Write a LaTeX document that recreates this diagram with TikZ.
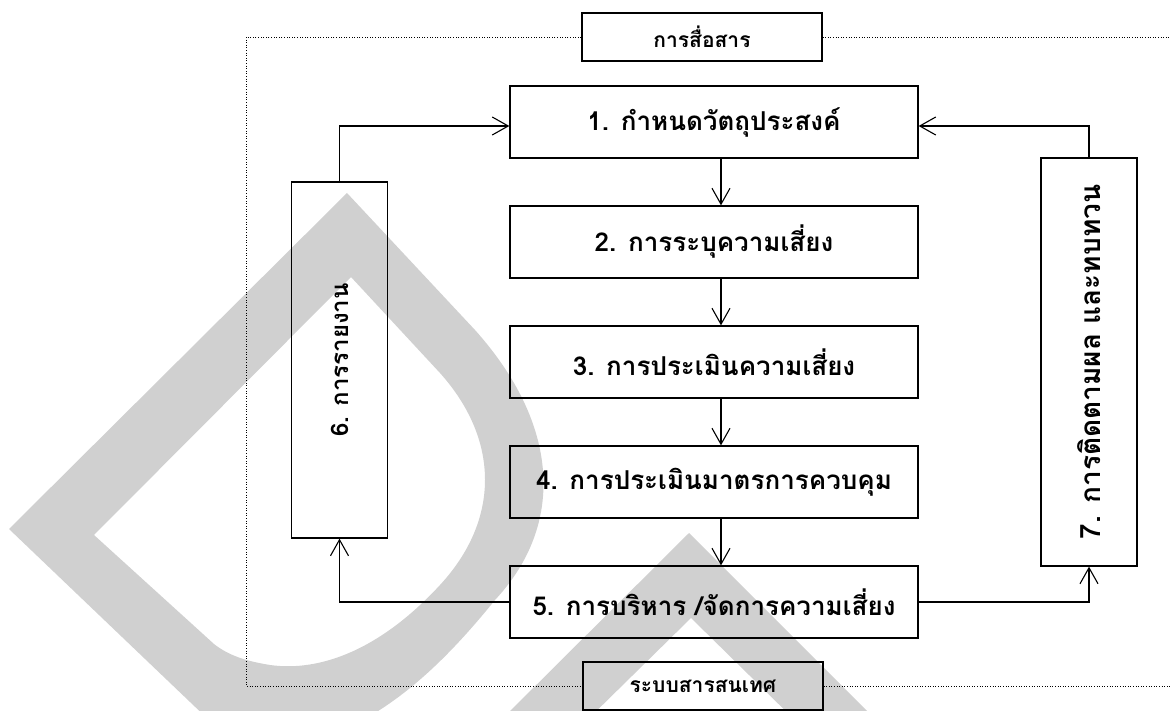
\documentclass[tikz,border=0pt]{standalone}
\usepackage{fontspec}
\newfontfamily\thaifont[Script=Thai]{Loma}
\usepackage{tikz}
\usetikzlibrary{arrows.meta, positioning}
\definecolor{wmark}{HTML}{D0D0D0}
\tikzset{
  stage/.style={draw=black, line width=1.3pt, minimum width=408pt, minimum height=72pt,
                inner sep=0pt, font=\thaifont\bfseries\fontsize{26}{30}\selectfont},
  side/.style={draw=black, line width=1.3pt, minimum height=96pt, inner sep=0pt,
               rotate=90, font=\thaifont\bfseries\fontsize{24}{28}\selectfont},
  band/.style={draw=black, line width=1.3pt, minimum width=240pt, minimum height=48pt,
               inner sep=0pt, font=\thaifont\bfseries\fontsize{21}{24}\selectfont},
  flow/.style={-{Straight Barb[length=16pt, width=18pt]}, line width=1.1pt},
  frame/.style={line width=0.9pt, dash pattern=on 1pt off 1.6pt},
}

\begin{document}
\begin{tikzpicture}[x=1pt, y=-1pt]
\useasboundingbox (0,0) rectangle (1171,711);

% ---------------- watermark ----------------
\fill[wmark, even odd rule]
  (347,193) -- (475,330) .. controls (560,425) and (565,525) .. (495,600)
  .. controls (440,668) and (380,725) .. (300,745) -- (235,745) -- (9,529) -- cycle
  (351,277) -- (440,373) .. controls (500,440) and (500,520) .. (440,585)
  .. controls (380,650) and (320,672) .. (270,665) .. controls (245,661) and (228,655) .. (214,644)
  -- (94,535) -- cycle;
\fill[wmark] (488,733) -- (689,533) -- (889,733) -- (808,733) -- (691,618) -- (574,733) -- cycle;

% ---------------- the process ----------------
\node[stage] (goal) at (714,122) {1. กำหนดวัตถุประสงค์};
\node[stage] (ident) at (714,242) {2. การระบุความเสี่ยง};
\node[stage] (assess) at (714,362) {3. การประเมินความเสี่ยง};
\node[stage] (ctrl) at (714,482) {4. การประเมินมาตรการควบคุม};
\node[stage] (manage) at (714,602) {5. การบริหาร /จัดการความเสี่ยง};
\node[side, minimum width=356pt] (report) at (339.5,360) {6. การรายงาน};
\node[side, minimum width=408pt, font=\thaifont\bfseries\fontsize{28}{32}\selectfont] (monitor) at (1089,362) {7. การติดตามผล  และทบทวน};

\foreach \a/\b in {goal/ident, ident/assess, assess/ctrl, ctrl/manage} {
  \draw[flow] ([xshift=7pt]\a.south) -- ([xshift=7pt]\b.north);
}
% rotated boxes: west is the bottom, east the top
\draw[flow] (manage.west) -| (report.west);
\draw[flow] (report.east) |- ([yshift=-4pt]goal.west);
\draw[flow] (manage.east) -| (monitor.west);
\draw[flow] (monitor.east) |- ([yshift=-4pt]goal.east);

% ---------------- communication and information ----------------
\node[band] (comm) at (702,37) {การสื่อสาร};
\node[band] (info) at (703,686) {ระบบสารสนเทศ};
\coordinate (fnw) at (246,37);
\coordinate (fne) at (1171,37);
\coordinate (fse) at (1171,686);
\draw[frame] (comm.west) -- (fnw) |- (info.west);
\draw[frame] (comm.east) -- (fne);
\draw[frame] (info.east) -- (fse);
\end{tikzpicture}
\end{document}
